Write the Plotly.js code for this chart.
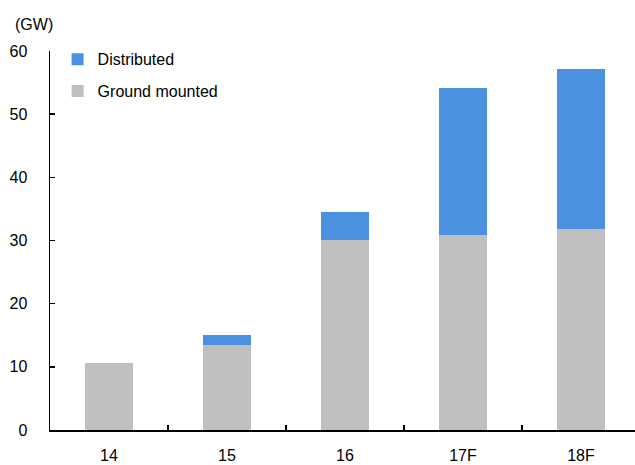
<!DOCTYPE html>
<html>
<head>
<meta charset="utf-8">
<script src="https://cdn.plot.ly/plotly-3.0.1.min.js"></script>
<style>
  html, body { margin: 0; padding: 0; background: #fff; }
  #chart { width: 635px; height: 465px; }
</style>
</head>
<body>
<div id="chart"></div>
<script>
// Annual installations by segment (GW)
const years = ['14', '15', '16', '17F', '18F'];
const groundMounted = [10.6, 13.5, 30.1, 30.8, 31.8];
const distributed = [0, 1.6, 4.4, 23.3, 25.3];

const FONT = 'Arial, "Liberation Sans", sans-serif';

const traces = [
  {
    type: 'bar',
    name: 'Ground mounted',
    x: years,
    y: groundMounted,
    marker: { color: '#bfbfbf' },
    legendgroup: 'g',
    legendrank: 2,
    hoverinfo: 'x+y+name'
  },
  {
    type: 'bar',
    name: 'Distributed',
    x: years,
    y: distributed,
    marker: { color: '#4a92e1' },
    legendgroup: 'd',
    legendrank: 1,
    hoverinfo: 'x+y+name'
  }
];

const layout = {
  width: 635,
  height: 465,
  margin: { l: 50, r: 0, t: 51, b: 35 },
  paper_bgcolor: '#ffffff',
  plot_bgcolor: '#ffffff',
  font: { family: FONT, size: 16, color: '#000' },
  barmode: 'stack',
  bargap: 0.59,
  showlegend: true,
  legend: {
    x: 0.013,
    y: 1.023,
    xanchor: 'left',
    yanchor: 'top',
    traceorder: 'grouped',
    tracegroupgap: 8,
    bgcolor: 'rgba(0,0,0,0)',
    font: { family: FONT, size: 16, color: '#000' }
  },
  xaxis: {
    type: 'category',
    range: [-0.5, 4.458],
    showline: true,
    linecolor: '#000',
    linewidth: 1.5,
    ticks: 'inside',
    tickson: 'boundaries',
    ticklen: 5,
    tickwidth: 1.5,
    tickcolor: '#000',
    showgrid: false,
    zeroline: false,
    ticklabelstandoff: 10,
    tickfont: { family: FONT, size: 16, color: '#000' }
  },
  yaxis: {
    range: [0, 60],
    dtick: 10,
    showline: true,
    linecolor: '#000',
    linewidth: 1.5,
    ticks: 'inside',
    ticklen: 5,
    tickwidth: 1.5,
    tickcolor: '#000',
    showgrid: false,
    zeroline: false,
    ticklabelstandoff: 18,
    tickfont: { family: FONT, size: 16, color: '#000' }
  },
  annotations: [
    {
      text: '(GW)',
      xref: 'paper', yref: 'paper',
      x: -0.0632, y: 1.0,
      xanchor: 'left', yanchor: 'bottom',
      yshift: 16,
      showarrow: false,
      font: { family: FONT, size: 16, color: '#000' }
    }
  ]
};

Plotly.newPlot('chart', traces, layout, { displayModeBar: false, staticPlot: true });
</script>
</body>
</html>
